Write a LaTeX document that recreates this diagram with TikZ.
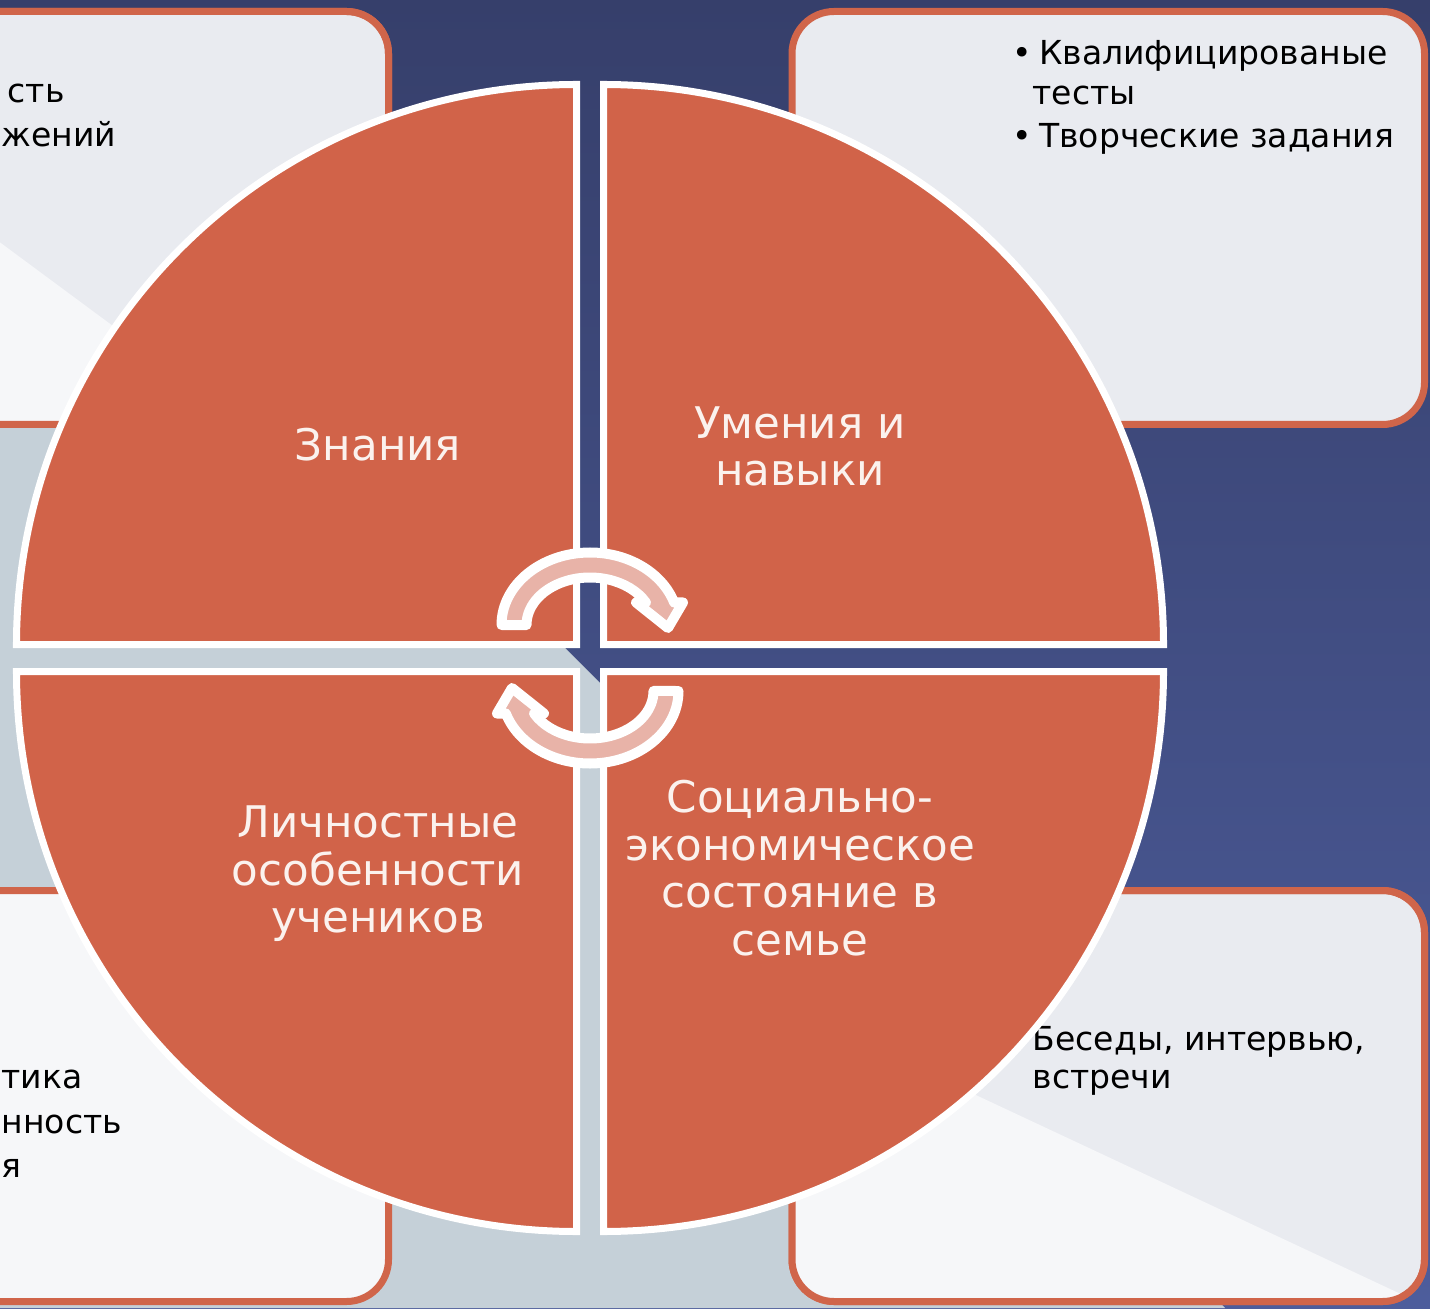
\documentclass[tikz,border=0pt]{standalone}
\usepackage{fontspec}
\setmainfont{DejaVu Sans}
\usetikzlibrary{positioning}
\definecolor{navytop}{HTML}{363F6B}
\definecolor{navybot}{HTML}{4D5D9C}
\definecolor{slategrey}{HTML}{C5D0D8}
\definecolor{pieorange}{HTML}{D16349}
\definecolor{boxorange}{HTML}{D0654A}
\definecolor{boxfill}{HTML}{E9EBF0}
\definecolor{boxlight}{HTML}{F6F7F9}
\definecolor{arrowpink}{HTML}{E8B3A8}
\definecolor{lbltext}{HTML}{FBF2EE}
\tikzset{
    pie/.style = {fill=pieorange, draw=white, line width=0.7mm},
    infobox/.style = {draw=boxorange, line width=0.7mm, rounded corners=4.2mm},
    cyclearrow/.style = {fill=arrowpink, draw=white, line width=1mm, line join=round},
    lbl/.style = {align=center, text=lbltext, font=\fontsize{12.4}{13.5}\selectfont},
    note/.style = {text=black, inner sep=0pt, font=\fontsize{9.4}{11}\selectfont},
}
% half ring with its head, centre at the origin
\newcommand{\arrowshape}{(-0.885,0) arc[start angle=180, end angle=18.1, x radius=0.885, y radius=0.725]
  -- (0.93,0.225) -- (0.78,-0.03) -- (0.46,0.225) -- (0.559,0.225)
  arc[start angle=28.3, end angle=180, x radius=0.635, y radius=0.475] -- cycle}
\begin{document}
\begin{tikzpicture}
\useasboundingbox (-5.9,-6.5) rectangle (8.4,6.58);
% background
\fill[top color=navytop, bottom color=navybot] (-5.9,-6.5) rectangle (8.4,6.58);
\fill[slategrey] (-5.9,5.75) -- (6.35,-6.5) -- (-5.9,-6.5) -- cycle;
%
% boxes behind the circle
\filldraw[infobox, fill=boxfill] (-6.5,2.335) rectangle (-2.015,6.465);
\begin{scope}
\clip[rounded corners=4.2mm] (-6.5,2.335) rectangle (-2.015,6.465);
\fill[boxlight] (-6.5,4.6) -- (-1.5,0.9) -- (-6.5,0.9) -- cycle;
\end{scope}
\draw[infobox] (-6.5,2.335) rectangle (-2.015,6.465);
\filldraw[infobox, fill=boxfill] (2.02,2.335) rectangle (8.345,6.465);
\filldraw[infobox, fill=boxlight] (-6.5,-6.435) rectangle (-2.015,-2.325);
\filldraw[infobox, fill=boxfill] (2.02,-6.435) rectangle (8.345,-2.325);
\begin{scope}
\clip[rounded corners=4.2mm] (2.02,-6.435) rectangle (8.345,-2.325);
\fill[boxlight] (2.0,-3.5) -- (8.3,-6.45) -- (2.0,-6.45) -- cycle;
\end{scope}
\draw[infobox] (2.02,-6.435) rectangle (8.345,-2.325);
%
% text in the boxes
\node[note, anchor=base west] at (-5.83, 5.55) (tl1) {сть};
\node[note, anchor=base west] at (-5.89, 5.11) (tl2) {жений};
\node[note, anchor=base west] at (4.22, 5.93) (tr1) {\textbullet\kern2pt Квалифицированые};
\node[note, anchor=base west] at (4.42, 5.53) (tr2) {тесты};
\node[note, anchor=base west] at (4.22, 5.10) (tr3) {\textbullet\kern2pt Творческие задания};
\node[note, anchor=base west] at (-5.89, -4.30) (bl1) {тика};
\node[note, anchor=base west] at (-5.89, -4.75) (bl2) {нность};
\node[note, anchor=base west] at (-5.89, -5.19) (bl3) {я};
\node[note, anchor=base west] at (4.42, -3.92) (br1) {Беседы, интервью,};
\node[note, anchor=base west] at (4.42, -4.30) (br2) {встречи};
%
% the four quarters
\filldraw[pie] (-0.135,0.135) -- ++(-5.6,0) arc[start angle=180, end angle=90, radius=5.6] -- cycle;
\filldraw[pie] (0.135,0.135) -- ++(5.6,0) arc[start angle=0, end angle=90, radius=5.6] -- cycle;
\filldraw[pie] (-0.135,-0.135) -- ++(-5.6,0) arc[start angle=180, end angle=270, radius=5.6] -- cycle;
\filldraw[pie] (0.135,-0.135) -- ++(5.6,0) arc[start angle=0, end angle=-90, radius=5.6] -- cycle;
%
\node[lbl] at (-2.12, 2.13) (knowledge) {Знания};
\node[lbl] at (2.10, 2.115) (skills) {Умения и\\навыки};
\node[lbl] at (-2.12, -2.16) (traits) {Личностные\\особенности\\учеников};
\node[lbl] at (2.10, -2.10) (family) {Социально-\\экономическое\\состояние в\\семье};
%
% cycle arrows
\begin{scope}[shift={(0,0.33)}]
\filldraw[cyclearrow] \arrowshape;
\end{scope}
\begin{scope}[shift={(0,-0.33)}, rotate=180]
\filldraw[cyclearrow] \arrowshape;
\end{scope}

\end{tikzpicture}
\end{document}
